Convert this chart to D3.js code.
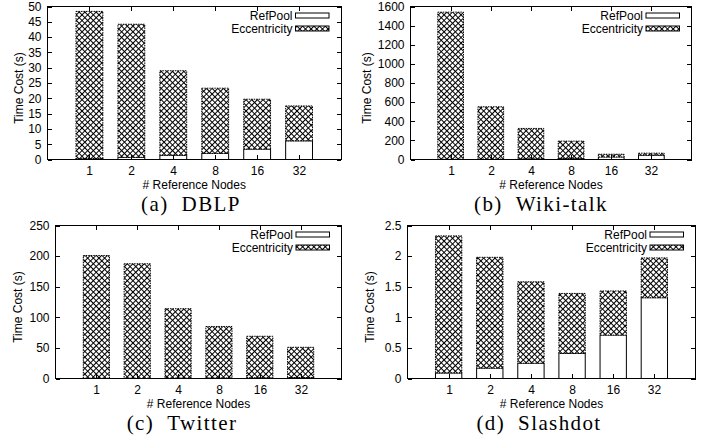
<!DOCTYPE html>
<html lang="en">
<head>
  <meta charset="UTF-8">
  <title>Time Cost vs Reference Nodes</title>
  <script src="https://d3js.org/d3.v7.min.js"></script>
  <style>
    body { margin: 0; background: #fff; }
    svg { display: block; }
    .tick-label { font-family: "Liberation Sans", Arial, sans-serif; font-size: 12px; fill: #000; }
    .axis-title { font-family: "Liberation Sans", Arial, sans-serif; font-size: 12px; fill: #000; }
    .legend-label { font-family: "Liberation Sans", Arial, sans-serif; font-size: 12px; fill: #000; }
    .caption { font-family: "Liberation Serif", "Times New Roman", serif; font-size: 21px; letter-spacing: 1.4px; fill: #000; }
  </style>
</head>
<body>
  <div id="chart"></div>
  <script>
    // categories
    const nodeCounts = ["1", "2", "4", "8", "16", "32"];

    // series values (seconds)
    const dblpRefPool = [0.3, 0.7, 1.4, 2.0, 3.4, 6.1];
    const dblpEccentricity = [48.1, 43.5, 27.6, 21.3, 16.3, 11.4];

    const wikiRefPool = [3, 5, 8, 12, 27, 45];
    const wikiEccentricity = [1538, 546, 317, 180, 28, 21];

    const twitterRefPool = [0.4, 0.5, 0.7, 0.9, 1.2, 1.6];
    const twitterEccentricity = [200.6, 187.0, 113.3, 84.1, 67.8, 49.4];

    const slashdotRefPool = [0.09, 0.17, 0.25, 0.41, 0.71, 1.32];
    const slashdotEccentricity = [2.24, 1.81, 1.33, 0.98, 0.72, 0.65];

    // y tick labels
    const dblpTicks = [0, 5, 10, 15, 20, 25, 30, 35, 40, 45, 50];
    const wikiTicks = [0, 200, 400, 600, 800, 1000, 1200, 1400, 1600];
    const twitterTicks = [0, 50, 100, 150, 200, 250];
    const slashdotTicks = [0, 0.5, 1, 1.5, 2, 2.5];

    const captionTags = ["(a)", "(b)", "(c)", "(d)"];
    const captionNames = ["DBLP", "Wiki-talk", "Twitter", "Slashdot"];
    const seriesNames = ["RefPool", "Eccentricity"];

    // panel frames (layout only)
    const panels = [
      { ref: dblpRefPool, ecc: dblpEccentricity, ticks: dblpTicks, tag: captionTags[0], name: captionNames[0],
        left: 47.5, right: 341, top: 6.5, bottom: 159.5, ylabX: 19, capX: 191 },
      { ref: wikiRefPool, ecc: wikiEccentricity, ticks: wikiTicks, tag: captionTags[1], name: captionNames[1],
        left: 410.5, right: 691.5, top: 6.5, bottom: 159.5, ylabX: 367, capX: 541 },
      { ref: twitterRefPool, ecc: twitterEccentricity, ticks: twitterTicks, tag: captionTags[2], name: captionNames[2],
        left: 55.5, right: 341.5, top: 225.5, bottom: 378.5, ylabX: 18, capX: 182 },
      { ref: slashdotRefPool, ecc: slashdotEccentricity, ticks: slashdotTicks, tag: captionTags[3], name: captionNames[3],
        left: 407.5, right: 695.5, top: 225.5, bottom: 378.5, ylabX: 370, capX: 539 }
    ];

    const svg = d3.select("#chart")
      .append("svg")
      .attr("width", 704)
      .attr("height", 437);

    svg.append("rect").attr("width", 704).attr("height", 437).attr("fill", "#fff");

    // crosshatch fill like gnuplot pattern 2
    const pat = svg.append("defs")
      .append("pattern")
      .attr("id", "xhatch")
      .attr("patternUnits", "userSpaceOnUse")
      .attr("width", 4)
      .attr("height", 4)
      .attr("patternTransform", "rotate(45)");
    pat.append("rect").attr("width", 4).attr("height", 4).attr("fill", "#fff");
    pat.append("path")
      .attr("d", "M0,0.5H4M0.5,0V4")
      .attr("stroke", "#000")
      .attr("stroke-width", 1);

    panels.forEach(p => {
      const g = svg.append("g");
      const ymax = p.ticks[p.ticks.length - 1];

      const x = d3.scaleBand()
        .domain(nodeCounts)
        .range([p.left, p.right])
        .paddingInner(0.36)
        .paddingOuter(0.68);

      const y = d3.scaleLinear()
        .domain([0, ymax])
        .range([p.bottom, p.top]);

      const rows = nodeCounts.map((n, i) => ({ n, ref: p.ref[i], ecc: p.ecc[i] }));

      // RefPool (bottom, white)
      g.selectAll(".ref")
        .data(rows)
        .enter()
        .append("rect")
        .attr("x", d => x(d.n))
        .attr("y", d => y(d.ref))
        .attr("width", x.bandwidth())
        .attr("height", d => y(0) - y(d.ref))
        .attr("fill", "#fff")
        .attr("stroke", "#000")
        .attr("stroke-width", 1);

      // Eccentricity stacked on top
      g.selectAll(".ecc")
        .data(rows)
        .enter()
        .append("rect")
        .attr("x", d => x(d.n))
        .attr("y", d => y(d.ref + d.ecc))
        .attr("width", x.bandwidth())
        .attr("height", d => y(d.ref) - y(d.ref + d.ecc))
        .attr("fill", "url(#xhatch)")
        .attr("stroke", "#000")
        .attr("stroke-width", 1)
        .attr("stroke-dasharray", "1.5,1");

      // frame
      g.append("rect")
        .attr("x", p.left)
        .attr("y", p.top)
        .attr("width", p.right - p.left)
        .attr("height", p.bottom - p.top)
        .attr("fill", "none")
        .attr("stroke", "#000")
        .attr("stroke-width", 1)
        .attr("shape-rendering", "crispEdges");

      // y ticks, mirrored on both sides
      const tl = 4.5;
      p.ticks.forEach(t => {
        const yy = Math.round(y(t)) + 0.5;
        g.append("path")
          .attr("d", `M${p.left},${yy}h${tl}M${p.right},${yy}h${-tl}`)
          .attr("stroke", "#000")
          .attr("shape-rendering", "crispEdges");
        g.append("text")
          .attr("class", "tick-label")
          .attr("x", p.left - 6)
          .attr("y", y(t))
          .attr("dy", "0.36em")
          .attr("text-anchor", "end")
          .text(t);
      });

      // x ticks, mirrored top and bottom
      nodeCounts.forEach(n => {
        const xx = Math.round(x(n) + x.bandwidth() / 2) + 0.5;
        g.append("path")
          .attr("d", `M${xx},${p.bottom}v${-tl}M${xx},${p.top}v${tl}`)
          .attr("stroke", "#000")
          .attr("shape-rendering", "crispEdges");
        g.append("text")
          .attr("class", "tick-label")
          .attr("x", xx)
          .attr("y", p.bottom + 15.5)
          .attr("text-anchor", "middle")
          .text(n);
      });

      // axis titles
      g.append("text")
        .attr("class", "axis-title")
        .attr("x", (p.left + p.right) / 2)
        .attr("y", p.bottom + 29.5)
        .attr("text-anchor", "middle")
        .text("# Reference Nodes");

      g.append("text")
        .attr("class", "axis-title")
        .attr("transform", `translate(${p.ylabX},${(p.top + p.bottom) / 2 + 5}) rotate(-90)`)
        .attr("dy", "0.35em")
        .attr("text-anchor", "middle")
        .text("Time Cost (s)");

      // legend
      seriesNames.forEach((s, i) => {
        const by = p.top + 13.5 + i * 13;
        const sx = p.right - 12 - 33.5;
        g.append("text")
          .attr("class", "legend-label")
          .attr("x", sx - 3)
          .attr("y", by)
          .attr("text-anchor", "end")
          .text(s);
        g.append("rect")
          .attr("x", sx)
          .attr("y", by - 7)
          .attr("width", 33.5)
          .attr("height", 5)
          .attr("fill", i === 0 ? "#fff" : "url(#xhatch)")
          .attr("stroke", "#000")
          .attr("stroke-width", 1);
      });

      // caption
      const cap = g.append("text")
        .attr("class", "caption")
        .attr("x", p.capX)
        .attr("y", p.bottom + 51)
        .attr("text-anchor", "middle");
      cap.append("tspan").text(p.tag);
      cap.append("tspan").attr("dx", 13).text(p.name);
    });
  </script>
</body>
</html>
